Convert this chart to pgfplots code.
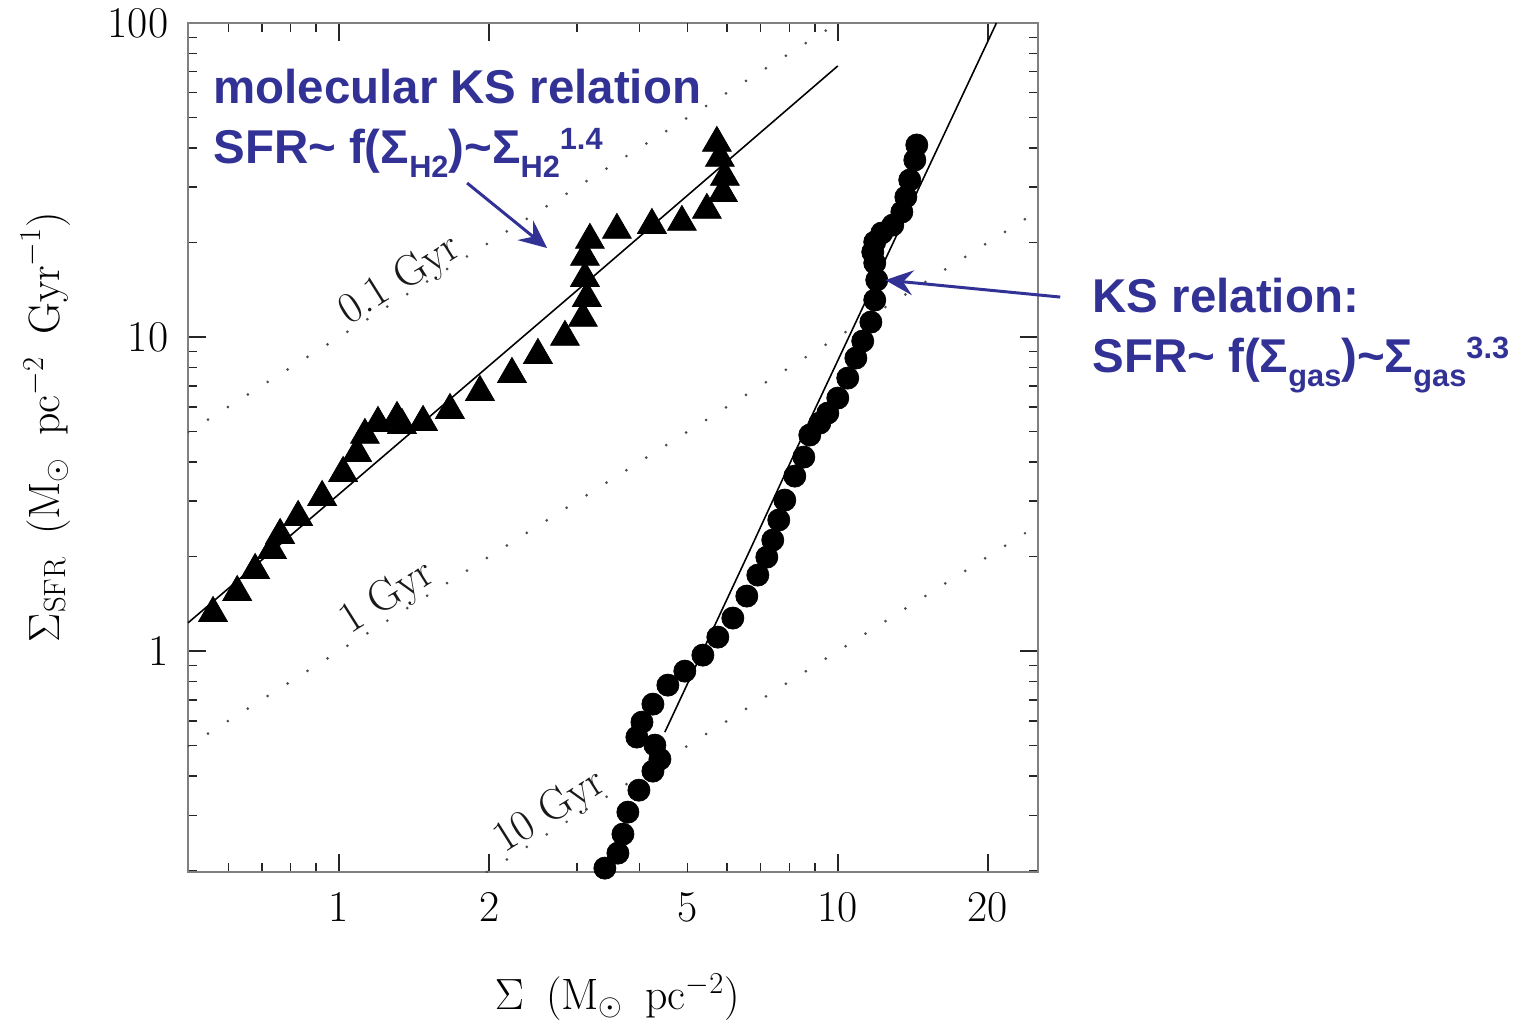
\documentclass[border=0pt]{standalone}
\usepackage{fontspec}
\setsansfont{Liberation Sans}
\usepackage{pgfplots}
\usepackage{pgfplotstable}
\pgfplotsset{compat=1.18}
\usetikzlibrary{arrows.meta}

\definecolor{ksblue}{RGB}{50,50,150}
% sub- and superscripts of the blue annotations
\newcommand\lo[1]{\raisebox{-8pt}{\fontsize{17.5}{20}\selectfont #1}}
\newcommand\hi[1]{\raisebox{7.6pt}{\fontsize{17.5}{20}\selectfont #1}}
\newcommand\bigfont{\fontsize{25}{30}\selectfont}

% triangles: molecular gas
\pgfplotstableread{
x y
0.559 1.321
0.625 1.541
0.679 1.811
0.734 2.097
0.762 2.341
0.828 2.672
0.925 3.093
1.019 3.688
1.087 4.271
1.127 4.875
1.197 5.323
1.307 5.521
1.337 5.245
1.474 5.362
1.669 5.854
1.917 6.681
2.222 7.623
2.505 8.763
2.838 10.00
3.083 11.50
3.140 13.31
3.112 15.41
3.112 17.98
3.184 20.37
3.607 21.92
4.240 22.73
4.869 23.24
5.464 25.38
5.884 28.74
5.938 32.33
5.802 37.16
5.722 41.48
}\htwo

% circles: total gas
\pgfplotstableread{
x y
3.412 0.2037
3.624 0.2274
3.709 0.2614
3.795 0.3071
3.993 0.3608
4.259 0.4148
4.399 0.4529
4.298 0.5020
3.956 0.5324
4.049 0.5940
4.259 0.6780
4.564 0.7794
4.935 0.8635
5.364 0.9711
5.748 1.108
6.160 1.274
6.571 1.497
6.914 1.746
7.206 1.992
7.408 2.257
7.616 2.614
7.830 3.026
8.200 3.608
8.548 4.148
8.788 4.875
9.204 5.323
9.550 5.728
10.00 6.393
10.47 7.403
10.87 8.574
11.22 9.711
11.65 11.16
11.86 13.12
11.97 15.19
11.86 17.21
11.75 18.65
11.86 20.07
12.25 21.44
12.89 22.73
13.44 25.01
13.69 27.92
13.94 31.62
14.27 36.62
14.40 40.88
}\gas

\begin{document}
\begin{tikzpicture}
\path[use as bounding box] (-3.76,-3.02) rectangle (26.62,17.44);
\begin{axis}[
    at={(0,0)}, anchor=south west,
    scale only axis, width=17cm, height=16.98cm,
    xmode=log, ymode=log,
    xmin=0.498, xmax=25.2, ymin=0.198, ymax=100,
    xtick={1,2,10,20}, xticklabels={1,2,10,20},
    extra x ticks={5}, extra x tick labels={5},
    extra x tick style={major tick length=0.18cm},
    minor xtick={0.6,0.7,0.8,0.9,3,4,6,7,8,9},
    ytick={1,10,100}, yticklabels={1,10,100},
    minor ytick={0.2,0.3,0.4,0.5,0.6,0.7,0.8,0.9,2,3,4,5,6,7,8,9,20,30,40,50,60,70,80,90},
    major tick length=0.36cm, minor tick length=0.18cm,
    tick style={black!85, line width=0.9pt},
    axis line style={black!50, line width=1.4pt},
    tick label style={font=\bigfont},
    xticklabel style={yshift=-0.28cm},
    yticklabel style={xshift=-0.27cm},
    every axis x label/.style={at={(axis description cs:0.505,-0.147)}, anchor=center},
    every axis y label/.style={at={(axis description cs:-0.168,0.524)}, rotate=90, anchor=center},
    xlabel={\bigfont$\Sigma\enspace(\mathrm{M}_\odot\enspace\mathrm{pc}^{-2})$},
    ylabel={\bigfont$\Sigma_{\mathrm{SFR}}\enspace(\mathrm{M}_\odot\enspace\mathrm{pc}^{-2}\enspace\mathrm{Gyr}^{-1})$},
]
% constant depletion times
\addplot[black!70, line width=1.7pt, line cap=round, dash pattern=on 0pt off 13.4pt] coordinates {(0.498,4.98) (10,100)};
\addplot[black!70, line width=1.7pt, line cap=round, dash pattern=on 0pt off 13.4pt] coordinates {(0.498,0.498) (25.2,25.2)};
\addplot[black!70, line width=1.7pt, line cap=round, dash pattern=on 0pt off 13.4pt] coordinates {(1.98,0.198) (25.2,2.52)};
\node[rotate=32.2, font=\bigfont, black!90] at (axis cs:1.325,15.1) {0.1 Gyr};
\node[rotate=32.2, font=\bigfont, black!90] at (axis cs:1.254,1.475) {1 Gyr};
\node[rotate=32.2, font=\bigfont, black!90] at (axis cs:2.648,0.307) {10 Gyr};

% fits
\addplot[black, line width=0.9pt] coordinates {(0.498,1.23) (1,3.16) (3.16,15.1) (10,73)};
\addplot[black, line width=0.9pt] coordinates {(4.5,0.552) (6.66,2.09) (8.91,5.7) (20.8,100)};

% data
\addplot[only marks, mark=triangle*, mark size=9.5pt, black] table {\htwo};
\addplot[only marks, mark=*, mark size=6.3pt, black] table {\gas};
\end{axis}

% annotations, placed in pixel units of the reference
\begin{scope}[xshift=-3.76cm, yshift=17.44cm, x=0.02cm, y=-0.02cm]
\tikzset{ann/.style={anchor=base west, inner sep=0pt, text=ksblue, font=\sffamily\bfseries\fontsize{27}{32}\selectfont}}
\node[ann] at (213,103) {molecular KS relation};
\node[ann] at (213,163) {SFR\textasciitilde{} f(Σ\lo{H2})\textasciitilde Σ\lo{H2}\hi{1.4}};
\node[ann] at (1092,312) {KS relation:};
\node[ann] at (1092,372) {SFR\textasciitilde{} f(Σ\lo{gas})\textasciitilde Σ\lo{gas}\hi{3.3}};
\draw[ksblue, line width=1.7pt, -{Stealth[length=0.56cm, width=0.5cm, inset=0.2cm]}] (467,183) -- (547,248);
\draw[ksblue, line width=1.7pt, -{Stealth[length=0.56cm, width=0.5cm, inset=0.2cm]}] (1060,297) -- (885,280);
\end{scope}
\end{tikzpicture}
\end{document}
